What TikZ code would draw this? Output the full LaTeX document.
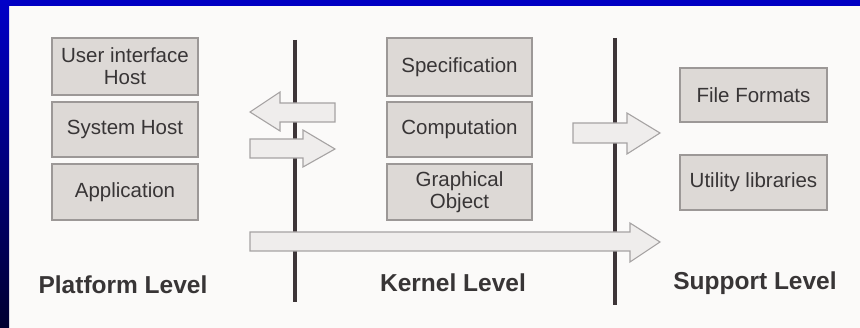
\documentclass[tikz,border=0pt]{standalone}
\usepackage{fontspec}
\setmainfont{Liberation Sans}
\definecolor{panel}{HTML}{FBFAF9}
\definecolor{topblue}{HTML}{0000C4}
\definecolor{sidetop}{HTML}{0000C8}
\definecolor{sidebot}{HTML}{000030}
\definecolor{boxfill}{HTML}{DDD9D6}
\definecolor{boxline}{HTML}{9C9897}
\definecolor{arrfill}{HTML}{EFEDEC}
\definecolor{arrline}{HTML}{A6A3A3}
\definecolor{bar}{HTML}{3D3538}
\definecolor{txt}{HTML}{383536}
\begin{document}
\begin{tikzpicture}[x=1pt,y=-1pt,
  box/.style={draw=boxline, fill=boxfill, line width=1.1pt, minimum width=146pt,
    minimum height=55pt, inner sep=0pt, align=center,
    font=\fontsize{20.5}{22}\selectfont, text=txt},
  lvl/.style={font=\fontsize{24.5}{28}\selectfont\bfseries, text=txt, inner sep=0pt},
  barline/.style={line width=4pt, draw=bar},
  blockarrow/.style={draw=arrline, fill=arrfill, line width=1.1pt, line join=miter}]
\useasboundingbox (0,0) rectangle (860,328);
\fill[panel] (0,0) rectangle (860,328);
\fill[topblue] (0,0) rectangle (860,6);
\shade[top color=sidetop, bottom color=sidebot] (0,0) rectangle (9,328);

% Platform level
\node[box, minimum height=57pt] (uih) at (125,66.5) {User interface\\Host};
\node[box] (sys) at (125,129.5) {System Host};
\node[box, minimum height=56pt] (app) at (125,192) {Application};
\node[lvl] (plat) at (123,285) {Platform Level};

% Kernel level
\node[box, minimum width=145pt, minimum height=58pt] (spec) at (459.5,67) {Specification};
\node[box, minimum width=145pt] (comp) at (459.5,129.5) {Computation};
\node[box, minimum width=145pt, minimum height=56pt] (gobj) at (459.5,192) {Graphical\\Object};
\node[lvl] (kern) at (453,283) {Kernel Level};

% Support level
\node[box, minimum width=147pt, minimum height=54pt] (ff) at (753.5,95) {File Formats};
\node[box, minimum width=147pt] (util) at (753.5,182.5) {Utility libraries};
\node[lvl] (supp) at (755,283) {Support Level};

% separators
\coordinate (s1t) at (295,40);
\coordinate (s1b) at (295,302);
\coordinate (s2t) at (615,38);
\coordinate (s2b) at (615,305);
\draw[barline] (s1t) -- (s1b);
\draw[barline] (s2t) -- (s2b);

% block arrows
\draw[blockarrow] (250,112) -- (280,92) -- (280,103) -- (335,103) -- (335,122)
  -- (280,122) -- (280,131) -- cycle;
\draw[blockarrow] (250,139) -- (303,139) -- (303,130) -- (335,149) -- (303,167)
  -- (303,158) -- (250,158) -- cycle;
\draw[blockarrow] (573,123) -- (627,123) -- (627,113) -- (660,133) -- (627,154)
  -- (627,143) -- (573,143) -- cycle;
\draw[blockarrow] (250,232) -- (630,232) -- (630,223) -- (660,242) -- (630,262)
  -- (630,251) -- (250,251) -- cycle;
\end{tikzpicture}
\end{document}
